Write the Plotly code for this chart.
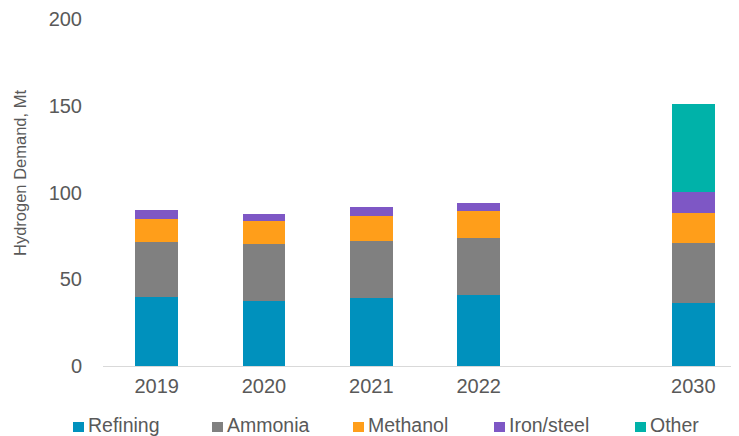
import plotly.graph_objects as go

categories = ["2019", "2020", "2021", "2022", " ", "2030"]
refining = [39.5, 37.5, 39.4, 41.1, None, 36.5]
ammonia = [32.0, 32.9, 32.7, 32.9, None, 34.6]
methanol = [13.3, 13.0, 14.6, 15.2, None, 16.9]
iron_steel = [5.2, 4.4, 5.0, 5.0, None, 12.5]
other = [None, None, None, None, None, 50.4]
y_ticks = [0, 50, 100, 150, 200]

series_names = ["Refining", "Ammonia", "Methanol", "Iron/steel", "Other"]
series_values = [refining, ammonia, methanol, iron_steel, other]
series_colors = ["#0091BD", "#808080", "#FF9E1A", "#7E57C5", "#00B2A9"]

W, H = 739, 436
OFF = 8  # page body margin offset
ML, MR, MT, MB = 103 - OFF, 0, 19 - OFF, H - (366 - OFF)
font_color = "#595959"
FONT = "Liberation Sans, Arial, sans-serif"

fig = go.Figure()
for name, vals, col in zip(series_names, series_values, series_colors):
    fig.add_trace(go.Bar(x=categories, y=vals, name=name, marker_color=col,
                         marker_line_width=0, showlegend=False))

# custom legend (real text) below the plot; positions in screen pixels
legend_x_px = [73, 212, 353, 494, 635]
pw = W - ML - MR
ph = H - MT - MB
def px_to_paper_x(px):
    return (px - OFF - ML) / pw
def py_to_paper_y(py):
    return (H - MB - (py - OFF)) / ph

shapes = []
annotations = []
for name, col, lx in zip(series_names, series_colors, legend_x_px):
    shapes.append(dict(type="rect", xref="paper", yref="paper",
                       x0=px_to_paper_x(lx), x1=px_to_paper_x(lx + 11),
                       y0=py_to_paper_y(432), y1=py_to_paper_y(422),
                       fillcolor=col, line=dict(width=0)))
    annotations.append(dict(text=name, xref="paper", yref="paper",
                            x=px_to_paper_x(lx + 13), y=py_to_paper_y(424.5),
                            xanchor="left", yanchor="middle", showarrow=False,
                            font=dict(size=19.5, color=font_color, family=FONT)))

annotations.append(dict(text="Hydrogen Demand, Mt", xref="paper", yref="paper",
                        x=px_to_paper_x(20), y=py_to_paper_y(173),
                        xanchor="center", yanchor="middle", textangle=-90,
                        showarrow=False,
                        font=dict(size=16.5, color=font_color, family=FONT)))

fig.update_layout(
    barmode="stack",
    bargap=0.6,
    width=W, height=H,
    margin=dict(l=ML, r=MR, t=MT, b=MB, autoexpand=False),
    plot_bgcolor="white", paper_bgcolor="white",
    font=dict(family=FONT, size=20, color=font_color),
    showlegend=False,
    shapes=shapes,
    annotations=annotations,
    xaxis=dict(type="category", range=[-0.5, 5.5], showgrid=False, showline=False,
               ticks="", automargin=False, ticklabelstandoff=6,
               tickfont=dict(size=20, color=font_color)),
    yaxis=dict(range=[0, 200], tickvals=y_ticks, showgrid=False,
               zeroline=True, zerolinecolor="#D9D9D9", zerolinewidth=1,
               showline=False, ticks="", ticklabelstandoff=20, automargin=False,
               tickfont=dict(size=20, color=font_color)),
)

fig.write_html("out.html")
